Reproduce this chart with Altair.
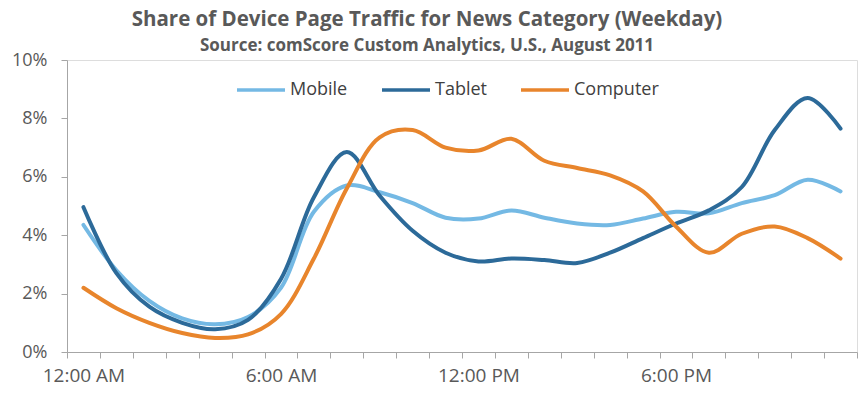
import altair as alt
import pandas as pd

hours = list(range(24))
mobile = [4.35, 2.8, 1.75, 1.15, 0.95, 1.2, 2.2, 4.8, 5.7, 5.47, 5.1, 4.6, 4.57, 4.85, 4.6, 4.4, 4.35, 4.57, 4.8, 4.75, 5.1, 5.37, 5.9, 5.5]
tablet = [4.96, 2.7, 1.55, 1.0, 0.78, 1.1, 2.5, 5.3, 6.85, 5.35, 4.15, 3.4, 3.1, 3.2, 3.15, 3.05, 3.4, 3.9, 4.4, 4.85, 5.65, 7.6, 8.7, 7.65]
computer = [2.2, 1.5, 1.0, 0.65, 0.48, 0.6, 1.3, 3.2, 5.6, 7.35, 7.6, 7.0, 6.9, 7.3, 6.55, 6.3, 6.05, 5.5, 4.3, 3.4, 4.05, 4.3, 3.9, 3.2]
series_names = ["Mobile", "Tablet", "Computer"]
series_colors = ["#74b9e4", "#2c6a99", "#e8852c"]
tick_labels = {0: "12:00 AM", 6: "6:00 AM", 12: "12:00 PM", 18: "6:00 PM"}

rows = []
for name, vals in zip(series_names, [mobile, tablet, computer]):
    for h, v in zip(hours, vals):
        rows.append({"pos": h + 0.5, "share": v / 100.0, "device": name})
df = pd.DataFrame(rows)

label_expr = " : ".join(
    [f"datum.value == {k} ? '{v}'" for k, v in tick_labels.items()]
) + " : ''"

W, H = 790, 292
FONT = "Open Sans"
TXT = "#595959"

color = alt.Color(
    "device:N",
    scale=alt.Scale(domain=series_names, range=series_colors),
    legend=alt.Legend(
        title=None,
        orient="none",
        direction="horizontal",
        legendX=168,
        legendY=4,
        symbolType="stroke",
        symbolStrokeWidth=3.5,
        symbolSize=2304,
        labelFontSize=18,
        labelFont=FONT,
        labelColor="#404040",
        labelOffset=3,
        columnPadding=27,
    ),
)

x = alt.X(
    "pos:Q",
    scale=alt.Scale(domain=[0, 24], nice=False, zero=False),
    axis=alt.Axis(
        title=None,
        values=list(range(25)),
        labelExpr=label_expr,
        labelOffset=W / 48,
        labelFontSize=19,
        labelFont=FONT,
        labelColor=TXT,
        labelPadding=8,
        tickSize=6,
        tickColor="#a6a6a6",
        domainColor="#a6a6a6",
        grid=False,
        labelFlush=False,
        labelOverlap=False,
    ),
)
y = alt.Y(
    "share:Q",
    scale=alt.Scale(domain=[0, 0.10], nice=False),
    axis=alt.Axis(
        title=None,
        values=[0, 0.02, 0.04, 0.06, 0.08, 0.10],
        format=".0%",
        labelFontSize=18,
        labelFont=FONT,
        labelColor=TXT,
        labelPadding=14,
        tickSize=6,
        tickColor="#a6a6a6",
        domainColor="#a6a6a6",
        grid=False,
    ),
)

layers = []
for name in series_names:
    layers.append(
        alt.Chart(df)
        .transform_filter(alt.datum.device == name)
        .mark_line(interpolate="catmull-rom", strokeWidth=4, strokeCap="round")
        .encode(x=x, y=y, color=color)
    )

chart = (
    alt.layer(*layers)
    .properties(
        width=W,
        height=H,
        autosize=alt.AutoSizeParams(type="none"),
        padding={"left": 67, "top": 60, "right": 1, "bottom": 42},
        title=alt.Title(
            "Share of Device Page Traffic for News Category (Weekday)",
            subtitle="Source: comScore Custom Analytics, U.S., August 2011",
            font=FONT,
            fontSize=20.5,
            fontWeight="bold",
            color=TXT,
            subtitleFont=FONT,
            subtitleFontSize=17,
            subtitleFontWeight="bold",
            subtitleColor=TXT,
            subtitlePadding=8,
            anchor="middle",
            dx=-35,
            dy=3,
            offset=0,
        ),
    )
    .configure_view(stroke=None)
    .configure(background="white")
)

chart.save("out.html", embed_options={"renderer": "svg", "actions": False})
